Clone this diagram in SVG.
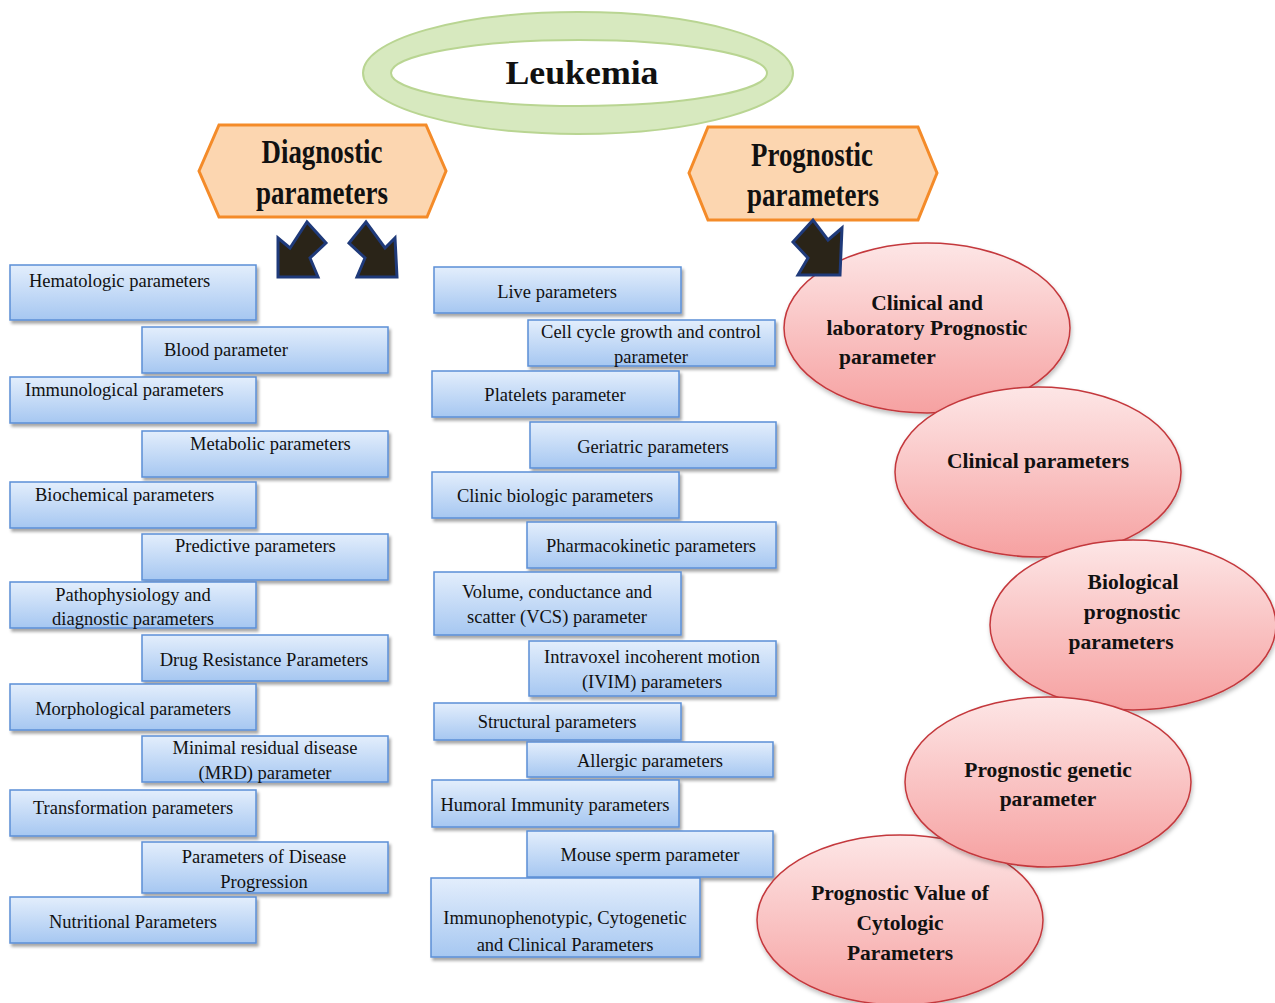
<svg xmlns="http://www.w3.org/2000/svg" width="1275" height="1003" viewBox="0 0 1275 1003">
<defs>
<linearGradient id="gBox" x1="0" y1="0" x2="0" y2="1">
<stop offset="0" stop-color="#e3eefc"/>
<stop offset="1" stop-color="#a6c7f1"/>
</linearGradient>
<linearGradient id="gPink" x1="0" y1="0" x2="0" y2="1">
<stop offset="0" stop-color="#fde6e6"/>
<stop offset="1" stop-color="#f6a1a1"/>
</linearGradient>
<filter id="sh" x="-5%" y="-10%" width="115%" height="140%">
<feDropShadow dx="2" dy="3" stdDeviation="1.5" flood-color="#000" flood-opacity="0.35"/>
</filter>
<filter id="sh2" x="-5%" y="-5%" width="115%" height="120%">
<feDropShadow dx="1" dy="3" stdDeviation="2" flood-color="#000" flood-opacity="0.25"/>
</filter>
</defs>
<style>
.box{fill:url(#gBox);stroke:#5b8fd6;stroke-width:1.5;filter:url(#sh)}
.t{font-family:"Liberation Serif","Times New Roman",serif;font-size:18.5px;fill:#111}
.c{text-anchor:middle}
.hex{fill:#fcd6b0;stroke:#f48b29;stroke-width:3}
.h{font-family:"Liberation Serif","Times New Roman",serif;font-weight:bold;font-size:34px;fill:#111;text-anchor:middle}
.pk{fill:url(#gPink);stroke:#c4383c;stroke-width:1.5;filter:url(#sh2)}
.pt{font-family:"Liberation Serif","Times New Roman",serif;font-weight:bold;font-size:21.5px;fill:#111;text-anchor:middle}
.arr{fill:#2a2418;stroke:#1f3a7a;stroke-width:3;stroke-linejoin:miter}
</style>
<rect width="1275" height="1003" fill="#ffffff"/>

<g id="leukemia">
<ellipse cx="578" cy="73" rx="215" ry="61" fill="#d7e9bf" stroke="#b9d592" stroke-width="2"/>
<ellipse cx="579" cy="73" rx="188" ry="33" fill="#ffffff" stroke="#b9d592" stroke-width="2"/>
<text x="582" y="84" class="h" font-size="38" textLength="153" lengthAdjust="spacingAndGlyphs">Leukemia</text>
</g>

<g id="diagnostic">
<polygon class="hex" points="199,171 219,125 426,125 446,171 427,217 219,217"/>
<text x="322" y="163" class="h" textLength="121" lengthAdjust="spacingAndGlyphs">Diagnostic</text>
<text x="322" y="204" class="h" textLength="132" lengthAdjust="spacingAndGlyphs">parameters</text>
</g>

<g id="prognostic">
<polygon class="hex" points="689,173 708,127 918,127 937,173 918,220 708,220"/>
<text x="812" y="166" class="h" textLength="122" lengthAdjust="spacingAndGlyphs">Prognostic</text>
<text x="813" y="206" class="h" textLength="132" lengthAdjust="spacingAndGlyphs">parameters</text>
</g>

<!-- left column -->
<g id="n-hematologic"><rect class="box" x="10" y="265" width="246" height="55"/><text class="t" x="29" y="287">Hematologic parameters</text></g>
<g id="n-blood"><rect class="box" x="142" y="327" width="246" height="46"/><text class="t" x="164" y="356">Blood parameter</text></g>
<g id="n-immunological"><rect class="box" x="10" y="377" width="246" height="46"/><text class="t" x="25" y="396">Immunological parameters</text></g>
<g id="n-metabolic"><rect class="box" x="142" y="431" width="246" height="46"/><text class="t" x="190" y="450">Metabolic parameters</text></g>
<g id="n-biochemical"><rect class="box" x="10" y="482" width="246" height="46"/><text class="t" x="35" y="501">Biochemical parameters</text></g>
<g id="n-predictive"><rect class="box" x="142" y="534" width="246" height="46"/><text class="t" x="175" y="552">Predictive parameters</text></g>
<g id="n-pathophysiology"><rect class="box" x="10" y="582" width="246" height="46"/><text class="t c" x="133" y="601">Pathophysiology and</text><text class="t c" x="133" y="625">diagnostic parameters</text></g>
<g id="n-drug"><rect class="box" x="142" y="635" width="246" height="46"/><text class="t c" x="264" y="666">Drug Resistance Parameters</text></g>
<g id="n-morphological"><rect class="box" x="10" y="684" width="246" height="46"/><text class="t c" x="133" y="715">Morphological parameters</text></g>
<g id="n-mrd"><rect class="box" x="142" y="736" width="246" height="46"/><text class="t c" x="265" y="754">Minimal residual disease</text><text class="t c" x="265" y="779">(MRD) parameter</text></g>
<g id="n-transformation"><rect class="box" x="10" y="790" width="246" height="46"/><text class="t c" x="133" y="814">Transformation parameters</text></g>
<g id="n-progression"><rect class="box" x="142" y="842" width="246" height="51"/><text class="t c" x="264" y="863">Parameters of Disease</text><text class="t c" x="264" y="888">Progression</text></g>
<g id="n-nutritional"><rect class="box" x="10" y="897" width="246" height="46"/><text class="t c" x="133" y="928">Nutritional Parameters</text></g>

<!-- middle column -->
<g id="n-live"><rect class="box" x="434" y="267" width="247" height="46"/><text class="t c" x="557" y="298">Live parameters</text></g>
<g id="n-cellcycle"><rect class="box" x="528" y="320" width="247" height="46"/><text class="t c" x="651" y="338">Cell cycle growth and control</text><text class="t c" x="651" y="363">parameter</text></g>
<g id="n-platelets"><rect class="box" x="432" y="371" width="247" height="46"/><text class="t c" x="555" y="401">Platelets parameter</text></g>
<g id="n-geriatric"><rect class="box" x="530" y="422" width="246" height="46"/><text class="t c" x="653" y="453">Geriatric parameters</text></g>
<g id="n-clinicbiologic"><rect class="box" x="432" y="472" width="247" height="46"/><text class="t c" x="555" y="502">Clinic biologic parameters</text></g>
<g id="n-pharmacokinetic"><rect class="box" x="527" y="522" width="249" height="46"/><text class="t c" x="651" y="552">Pharmacokinetic parameters</text></g>
<g id="n-vcs"><rect class="box" x="434" y="572" width="247" height="63"/><text class="t c" x="557" y="598">Volume, conductance and</text><text class="t c" x="557" y="623">scatter (VCS) parameter</text></g>
<g id="n-ivim"><rect class="box" x="529" y="641" width="247" height="55"/><text class="t c" x="652" y="663">Intravoxel incoherent motion</text><text class="t c" x="652" y="688">(IVIM) parameters</text></g>
<g id="n-structural"><rect class="box" x="434" y="703" width="247" height="37"/><text class="t c" x="557" y="728">Structural parameters</text></g>
<g id="n-allergic"><rect class="box" x="527" y="742" width="246" height="35"/><text class="t c" x="650" y="767">Allergic parameters</text></g>
<g id="n-humoral"><rect class="box" x="432" y="780" width="247" height="47"/><text class="t c" x="555" y="811">Humoral Immunity parameters</text></g>
<g id="n-mouse"><rect class="box" x="527" y="831" width="246" height="46"/><text class="t c" x="650" y="861">Mouse sperm parameter</text></g>
<g id="n-immuno"><rect class="box" x="431" y="878" width="269" height="79"/><text class="t c" x="565" y="924">Immunophenotypic, Cytogenetic</text><text class="t c" x="565" y="951">and Clinical Parameters</text></g>

<!-- right ellipses -->
<g id="e-clinlab"><ellipse class="pk" cx="927" cy="328" rx="143" ry="85"/>
<text class="pt" x="927" y="310" font-size="19.5">Clinical and</text>
<text class="pt" x="927" y="335" font-size="19.5">laboratory Prognostic</text>
<text class="pt" x="839" y="364" font-size="19.5" text-anchor="start" style="text-anchor:start">parameter</text></g>
<g id="e-clinical"><ellipse class="pk" cx="1038" cy="472" rx="143" ry="85"/>
<text class="pt" x="1038" y="468">Clinical parameters</text></g>
<g id="e-biological"><ellipse class="pk" cx="1133" cy="625" rx="143" ry="85"/>
<text class="pt" x="1133" y="589">Biological</text>
<text class="pt" x="1132" y="619">prognostic</text>
<text class="pt" x="1121" y="649">parameters</text></g>
<g id="e-cytologic"><ellipse class="pk" cx="900" cy="920" rx="143" ry="85"/>
<text class="pt" x="900" y="900">Prognostic Value of</text>
<text class="pt" x="900" y="930">Cytologic</text>
<text class="pt" x="900" y="960">Parameters</text></g>
<g id="e-genetic"><ellipse class="pk" cx="1048" cy="782" rx="143" ry="85"/>
<text class="pt" x="1048" y="777">Prognostic genetic</text>
<text class="pt" x="1048" y="806">parameter</text></g>

<g id="connectors">
<polygon class="arr" points="307,222 326,243 310,258 318,277 278,277 278,238 290,248"/>
<polygon class="arr" points="366,222 349,243 365,258 357,277 397,277 395,238 385,248"/>
<polygon class="arr" points="813,220 793,242 808,258 798,275 840,275 842,228 828,240"/>
</g>
</svg>
